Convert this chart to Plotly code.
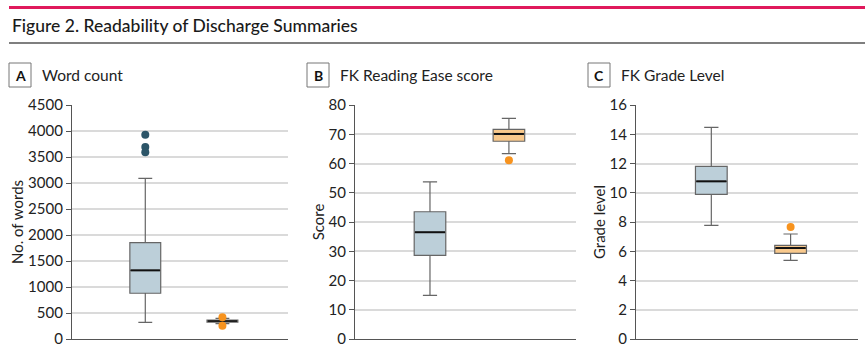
import plotly.graph_objects as go

# ---- data ----
panels = ["A", "B", "C"]
panel_titles = ["Word count", "FK Reading Ease score", "FK Grade Level"]
y_titles = ["No. of words", "Score", "Grade level"]
y_max = [4500, 80, 16]
y_dtick = [500, 10, 2]
groups = [1, 2]  # 1 = original summaries, 2 = transformed summaries

# [group1, group2] for each panel
q1 = [[880, 325], [28.6, 67.6], [9.89, 5.86]]
median = [[1320, 345], [36.5, 70.1], [10.78, 6.22]]
q3 = [[1855, 365], [43.5, 71.7], [11.81, 6.40]]
lower = [[320, 295], [14.9, 63.4], [7.77, 5.38]]
upper = [[3090, 395], [53.7, 75.4], [14.47, 7.18]]
outliers = [
    [[3930, 3690, 3590], [420, 255]],
    [[], [61.1]],
    [[], [7.66]],
]

box_fill = ["#BCCFD9", "#F9C98C"]
pt_color = ["#2C5568", "#F7931E"]
box_w = 0.4

W, H = 865, 351
x_dom = [(72, 288), (355, 576), (636, 858)]
y_top, y_bot = 105, 339

fig = go.Figure()
for i in range(3):
    xa = "x" if i == 0 else f"x{i+1}"
    ya = "y" if i == 0 else f"y{i+1}"
    for g in range(2):
        fig.add_trace(go.Box(
            x=[groups[g]], q1=[q1[i][g]], median=[median[i][g]], q3=[q3[i][g]],
            lowerfence=[lower[i][g]], upperfence=[upper[i][g]],
            width=box_w, whiskerwidth=0.45, boxpoints=False,
            fillcolor=box_fill[g], line=dict(color="#666666", width=1.2),
            xaxis=xa, yaxis=ya, showlegend=False, hoverinfo="skip"))
        fig.add_trace(go.Scatter(
            x=[groups[g] - box_w / 2 + 0.01, groups[g] + box_w / 2 - 0.01],
            y=[median[i][g], median[i][g]], mode="lines",
            line=dict(color="#111111", width=2 if i > 0 or g == 0 else 1.5), xaxis=xa, yaxis=ya,
            showlegend=False, hoverinfo="skip"))
        if outliers[i][g]:
            fig.add_trace(go.Scatter(
                x=[groups[g]] * len(outliers[i][g]), y=outliers[i][g], mode="markers",
                marker=dict(color=pt_color[g], size=8), xaxis=xa, yaxis=ya,
                showlegend=False, hoverinfo="skip"))

font = "Lato"
layout = dict(
    width=W, height=H, margin=dict(l=0, r=0, t=0, b=0, autoexpand=False),
    paper_bgcolor="white", plot_bgcolor="white",
    font=dict(family=font, color="#222222", size=14),
)
for i in range(3):
    sx = "" if i == 0 else str(i + 1)
    layout["xaxis" + sx] = dict(
        domain=[x_dom[i][0] / W, x_dom[i][1] / W], range=[0.05, 2.85],
        showticklabels=False, ticks="", showgrid=False, zeroline=False,
        showline=True, linecolor="#555555", linewidth=1.2, automargin=False,
        anchor="y" + sx, fixedrange=True)
    layout["yaxis" + sx] = dict(
        domain=[(H - y_bot) / H, (H - y_top) / H], range=[0, y_max[i]],
        dtick=y_dtick[i], tick0=0, showgrid=True, gridcolor="#DADADA", gridwidth=1.5,
        zeroline=False, showline=True, linecolor="#555555", linewidth=1.2,
        ticks="outside", ticklen=5, tickcolor="#555555", tickwidth=1.2,
        tickfont=dict(size=15, color="#222222"), automargin=False,
        title=dict(text=y_titles[i], font=dict(size=15, color="#222222"), standoff=0),
        anchor="x" + sx, fixedrange=True)
fig.update_layout(**layout)

shapes = [
    dict(type="line", xref="paper", yref="paper", x0=9 / W, x1=1, y0=(H - 7.5) / H, y1=(H - 7.5) / H,
         line=dict(color="#E0195C", width=3)),
    dict(type="line", xref="paper", yref="paper", x0=9 / W, x1=1, y0=(H - 43) / H, y1=(H - 43) / H,
         line=dict(color="#555555", width=1.5)),
]
annotations = [
    dict(text="Figure 2. Readability of Discharge Summaries", xref="paper", yref="paper",
         x=10 / W, y=(H - 25) / H, xanchor="left", yanchor="middle", showarrow=False,
         font=dict(size=17.5, color="#1a1a1a", family=font, weight=500)),
]
label_boxes = [(9, 31), (307, 329), (588, 610)]
for i in range(3):
    x0, x1 = label_boxes[i]
    shapes.append(dict(type="rect", xref="paper", yref="paper", x0=x0 / W, x1=x1 / W,
                       y0=(H - 87) / H, y1=(H - 63) / H,
                       line=dict(color="#777777", width=1), fillcolor="white"))
    annotations.append(dict(text="<b>%s</b>" % panels[i], xref="paper", yref="paper",
                            x=(x0 + x1) / 2 / W, y=(H - 75) / H, xanchor="center", yanchor="middle",
                            showarrow=False, font=dict(size=14, color="#111111", family=font)))
    annotations.append(dict(text=panel_titles[i], xref="paper", yref="paper",
                            x=(x1 + 9) / W, y=(H - 75) / H, xanchor="left", yanchor="middle",
                            showarrow=False, font=dict(size=15.5, color="#222222", family=font)))
fig.update_layout(shapes=shapes, annotations=annotations)

fig.write_html("out.html")
